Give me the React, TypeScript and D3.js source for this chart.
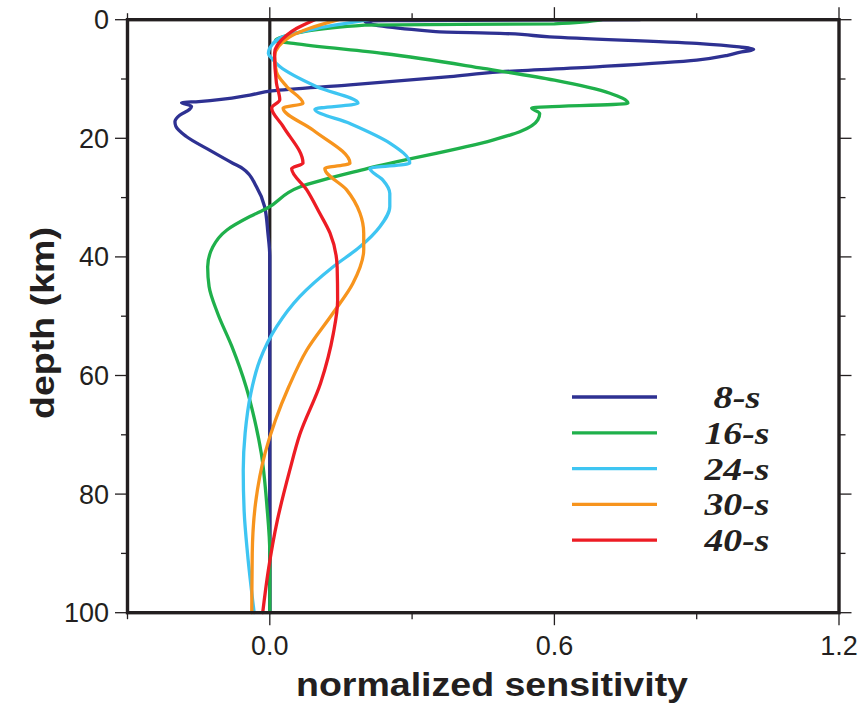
import React from "react";
import * as d3 from "d3";

const W = 864;
const H = 711;

const xTicksMajor = [0.0, 0.6, 1.2];
const xTicksMinor = [-0.3, 0.3, 0.9];
const yTicksMajor = [0, 20, 40, 60, 80, 100];
const yTicksMinor = [10, 30, 50, 70, 90];

const seriesNames = ["8-s", "16-s", "24-s", "30-s", "40-s"];
const seriesColors = ["#2e3192", "#1fb04b", "#3ec5f2", "#f7941d", "#ed1c24"];

const depth8 = [0, 0.2, 2.0, 2.3, 2.9, 4.0, 4.6, 5.0, 5.5, 6.0, 6.8, 7.9, 8.8, 9.6, 11.0, 12.0, 12.7, 13.8, 14.0, 14.6, 15.1, 16.1, 17.2, 18.0, 19.7, 22.0, 24.2, 25.1, 28.2, 31.5, 36, 40, 50, 60, 70, 80, 90, 100];
const value8 = [0.78, 0.2, 0.35, 0.485, 0.59, 0.9, 0.99, 1.02, 0.99, 0.965, 0.9, 0.696, 0.485, 0.38, 0.169, 0.004, -0.042, -0.15, -0.186, -0.165, -0.169, -0.19, -0.2, -0.198, -0.176, -0.127, -0.078, -0.057, -0.028, -0.011, -0.004, 0, 0, 0, 0, 0, 0, 0];

const depth16 = [0, 0.7, 0.9, 2.9, 3.5, 4.0, 5.7, 8.2, 10.2, 12.4, 14.1, 14.9, 15.8, 16.9, 18.9, 20.3, 25.1, 28.2, 31.8, 33.2, 35.5, 38.3, 41.7, 45, 49.5, 55.1, 61.9, 67.5, 73.1, 82.1, 90, 100];
const value16 = [0.7, 0.6, 0.2, 0.027, 0.012, 0.05, 0.24, 0.45, 0.6, 0.717, 0.755, 0.552, 0.569, 0.565, 0.527, 0.47, 0.205, 0.063, -0.006, -0.042, -0.091, -0.12, -0.131, -0.128, -0.11, -0.08, -0.05, -0.032, -0.018, -0.006, 0, 0];

const depth24 = [0, 1.45, 2.9, 4.3, 5.7, 6.5, 7.9, 11.3, 14.1, 15.1, 17.5, 20.8, 24.2, 25.1, 27.0, 29.3, 31.5, 34.9, 38.3, 41.7, 46.7, 51.8, 57.4, 63, 69.7, 76, 83, 90, 100];
const value24 = [0.21, 0.1, 0.027, 0.004, -0.003, 0.004, 0.021, 0.099, 0.186, 0.095, 0.169, 0.253, 0.295, 0.211, 0.238, 0.253, 0.253, 0.232, 0.19, 0.133, 0.063, 0.014, -0.021, -0.04, -0.052, -0.056, -0.054, -0.047, -0.033];

const depth30 = [0, 1.45, 2.9, 6.2, 8.8, 11.3, 14.1, 14.9, 18.6, 24.2, 25.1, 28.7, 32.6, 36, 38.8, 44.5, 49.5, 55.7, 61.9, 67.5, 73.1, 81.5, 90, 100];
const value30 = [0.145, 0.084, 0.042, 0.01, 0.014, 0.036, 0.07, 0.028, 0.091, 0.169, 0.116, 0.162, 0.19, 0.198, 0.198, 0.175, 0.133, 0.078, 0.04, 0.012, -0.01, -0.03, -0.037, -0.038];

const depth40 = [0, 1.45, 2.6, 5.7, 10.7, 13.5, 14.9, 18, 24.2, 25.1, 28.7, 32.6, 36, 41.7, 47.3, 52.9, 61.3, 70, 76, 84.4, 92.8, 100];
const value40 = [0.095, 0.057, 0.036, 0.01, 0.014, 0.021, 0.004, 0.028, 0.07, 0.046, 0.078, 0.105, 0.127, 0.142, 0.143, 0.134, 0.107, 0.063, 0.042, 0.016, -0.003, -0.015];

const depths = [depth8, depth16, depth24, depth30, depth40];
const values = [value8, value16, value24, value30, value40];

export default function App() {
  const left = 127.5;
  const right = 839;
  const top = 19.7;
  const bottom = 612.7;
  const x = d3.scaleLinear().domain([-0.3, 1.2]).range([left, right]);
  const y = d3.scaleLinear().domain([0, 100]).range([top, bottom]);

  const line = d3
    .line<[number, number]>()
    .x((p) => x(p[1]))
    .y((p) => y(p[0]))
    .curve(d3.curveMonotoneY);

  const tickStroke = "#231f20";
  const sans = "'Liberation Sans', Arial, Helvetica, sans-serif";
  const serif = "'Liberation Serif', 'Times New Roman', serif";

  const legendX0 = 572;
  const legendX1 = 657;
  const legendY0 = 397;
  const legendDy = 35.8;
  const legendWidths = [47, 65, 65, 65, 65];

  return (
    <div style={{ position: "absolute", left: 0, top: 0 }}>
      <svg width={W} height={H} viewBox={`0 0 ${W} ${H}`} style={{ display: "block", background: "#fff" }}>
        {/* zero line */}
        <line x1={x(0)} x2={x(0)} y1={top} y2={bottom} stroke="#231f20" strokeWidth={3.2} />

        {/* curves */}
        {depths.map((ds, i) => {
          const pts: [number, number][] = ds.map((d, j) => [d, values[i][j]]);
          return (
            <path key={i} d={line(pts) || ""} fill="none" stroke={seriesColors[i]} strokeWidth={3.3} strokeLinejoin="round" strokeLinecap="round" />
          );
        })}

        {/* frame */}
        <rect x={left} y={top} width={right - left} height={bottom - top} fill="none" stroke="#231f20" strokeWidth={3.4} />

        {/* x ticks top & bottom */}
        {xTicksMajor.map((t) => (
          <g key={"xm" + t}>
            <line x1={x(t)} x2={x(t)} y1={top} y2={top - 12.5} stroke={tickStroke} strokeWidth={1.3} />
            <line x1={x(t)} x2={x(t)} y1={bottom} y2={bottom + 12.5} stroke={tickStroke} strokeWidth={1.3} />
            <text x={x(t)} y={bottom + 42} textAnchor="middle" fontFamily={sans} fontSize={27} fill="#231f20">
              {d3.format(".1f")(t)}
            </text>
          </g>
        ))}
        {xTicksMinor.map((t) => (
          <g key={"xn" + t}>
            <line x1={x(t)} x2={x(t)} y1={top} y2={top - 6.5} stroke={tickStroke} strokeWidth={1.3} />
            <line x1={x(t)} x2={x(t)} y1={bottom} y2={bottom + 6.5} stroke={tickStroke} strokeWidth={1.3} />
          </g>
        ))}

        {/* y ticks left & right */}
        {yTicksMajor.map((t) => (
          <g key={"ym" + t}>
            <line x1={left} x2={left - 12.5} y1={y(t)} y2={y(t)} stroke={tickStroke} strokeWidth={1.3} />
            <line x1={right} x2={right + 12.5} y1={y(t)} y2={y(t)} stroke={tickStroke} strokeWidth={1.3} />
            <text x={109} y={y(t) + 9.5} textAnchor="end" fontFamily={sans} fontSize={27} fill="#231f20">
              {t}
            </text>
          </g>
        ))}
        {yTicksMinor.map((t) => (
          <g key={"yn" + t}>
            <line x1={left} x2={left - 6.5} y1={y(t)} y2={y(t)} stroke={tickStroke} strokeWidth={1.3} />
            <line x1={right} x2={right + 6.5} y1={y(t)} y2={y(t)} stroke={tickStroke} strokeWidth={1.3} />
          </g>
        ))}

        {/* axis titles */}
        <text
          x={492}
          y={696}
          textAnchor="middle"
          fontFamily={sans}
          fontWeight="bold"
          fontSize={34}
          fill="#231f20"
          textLength={392}
          lengthAdjust="spacingAndGlyphs"
        >
          normalized sensitivity
        </text>
        <text
          transform={`translate(54, 323) rotate(-90)`}
          textAnchor="middle"
          fontFamily={sans}
          fontWeight="bold"
          fontSize={34}
          fill="#231f20"
          textLength={192}
          lengthAdjust="spacingAndGlyphs"
        >
          depth (km)
        </text>

        {/* legend */}
        {seriesNames.map((name, i) => (
          <g key={name}>
            <line x1={legendX0} x2={legendX1} y1={legendY0 + i * legendDy} y2={legendY0 + i * legendDy} stroke={seriesColors[i]} strokeWidth={3.3} />
            <text
              x={737}
              y={legendY0 + i * legendDy + 11}
              textAnchor="middle"
              fontFamily={serif}
              fontStyle="italic"
              fontWeight="bold"
              fontSize={32}
              fill="#231f20"
              textLength={legendWidths[i]}
              lengthAdjust="spacingAndGlyphs"
            >
              {name}
            </text>
          </g>
        ))}
      </svg>
    </div>
  );
}
